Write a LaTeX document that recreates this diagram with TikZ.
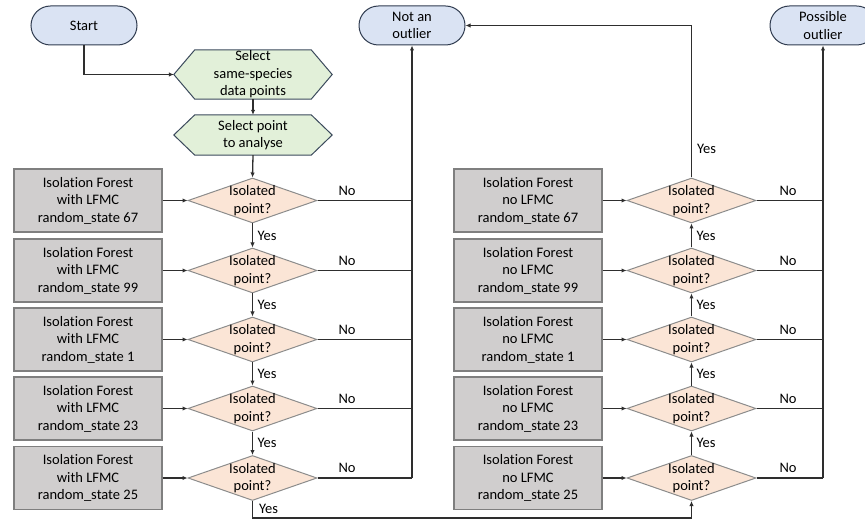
\documentclass[tikz,border=0pt]{standalone}
\usepackage{fontspec}
\setmainfont{Carlito}[Ligatures=NoCommon]
\usetikzlibrary{shapes.geometric,arrows.meta,calc}
\definecolor{termfill}{HTML}{DAE3F3}
\definecolor{termdraw}{HTML}{2F3B4F}
\definecolor{hexfill}{HTML}{E2F0D9}
\definecolor{hexdraw}{HTML}{3B4A5C}
\definecolor{diafill}{HTML}{FBE5D6}
\definecolor{diadraw}{HTML}{8C8C8C}
\definecolor{boxfill}{HTML}{D0CECE}
\definecolor{boxdraw}{HTML}{7F7F7F}
\definecolor{linecol}{HTML}{2E2E2E}
\begin{document}
\begin{tikzpicture}[x=1pt,y=1pt,
  every node/.style={font=\fontsize{14.5}{17.5}\selectfont},
  term/.style={draw=termdraw,fill=termfill,line width=1pt,rounded corners=19.5pt,
    minimum width=106pt,minimum height=39pt,inner sep=0pt,align=center},
  hexbox/.style={minimum width=158pt,minimum height=49pt,inner sep=0pt,align=center},
  hexline/.style={draw=hexdraw,fill=hexfill,line width=1pt},
  dia/.style={diamond,draw=diadraw,fill=diafill,line width=1pt,minimum width=129pt,
    minimum height=45pt,inner sep=0pt},
  diatext/.style={align=center,inner sep=0pt},
  algbox/.style={draw=boxdraw,fill=boxfill,line width=1.3pt,minimum width=148pt,
    minimum height=63pt,inner sep=0pt,align=center},
  conn/.style={draw=linecol,line width=1.3pt},
  arr/.style={conn,-{Latex[length=5pt,width=4.5pt]}},
  lbl/.style={inner sep=0pt}
]
\useasboundingbox (0,0) rectangle (865,-521);

% terminals
\node[term] (start) at (84,-25.5) {Start};
\node[term] (notout) at (412,-25.5) {Not an\\outlier};
\node[term] (possout) at (823,-25.5) {Possible\\outlier};

% hexagons
\node[hexbox] (h1) at (253,-74.5) {};
\path[hexline] (h1.west) -- ($(h1.north west)+(21,0)$) -- ($(h1.north east)+(-21,0)$)
  -- (h1.east) -- ($(h1.south east)+(-21,0)$) -- ($(h1.south west)+(21,0)$) -- cycle;
\node[hexbox] (h1t) at (h1) {Select\\same-species\\data points};
\node[hexbox,minimum height=40pt] (h2) at (253,-135) {};
\path[hexline] (h2.west) -- ($(h2.north west)+(21,0)$) -- ($(h2.north east)+(-21,0)$)
  -- (h2.east) -- ($(h2.south east)+(-21,0)$) -- ($(h2.south west)+(21,0)$) -- cycle;
\node[hexbox,minimum height=40pt] (h2t) at (h2) {Select point\\to analyse};

% columns
\foreach \i/\y/\rs in {1/200.5/67, 2/270.5/99, 3/339.5/1, 4/408.5/23, 5/478/25}{
  \node[algbox] (lb\i) at (88,-\y) {Isolation Forest\\with LFMC\\random\_state \rs};
  \node[dia] (ld\i) at (252.5,-\y) {};
  \node[diatext] (ldt\i) at (252.5,-\y) {Isolated\\point?};
  \draw[arr] (lb\i.east) -- (ld\i.west);
  \draw[conn] (ld\i.east) -- (ld\i.east -| notout.south);
  \node[lbl] (lno\i) at (347,-\y+10) {No};
  \node[algbox] (rb\i) at (528,-\y) {Isolation Forest\\no LFMC\\random\_state \rs};
  \node[dia] (rd\i) at (691.5,-\y) {};
  \node[diatext] (rdt\i) at (691.5,-\y) {Isolated\\point?};
  \draw[arr] (rb\i.east) -- (rd\i.west);
  \draw[conn] (rd\i.east) -- (rd\i.east -| possout.south);
  \node[lbl] (rno\i) at (788,-\y+10) {No};
}

% vertical chains
\draw[arr] (h1.south) -- (h2.north);
\draw[arr] (h2.south) -- (ld1.north);
\draw[arr] (start.south) |- (h1.west);
\foreach \i/\j in {1/2,2/3,3/4,4/5}{
  \draw[arr] (ld\i.south) -- (ld\j.north);
  \path (ld\i.south) -- (ld\j.north) node[midway,anchor=west,lbl,xshift=5pt] (ly\i) {Yes};
  \draw[arr] (rd\j.north) -- (rd\i.south);
  \path (rd\j.north) -- (rd\i.south) node[midway,anchor=west,lbl,xshift=5pt] (ry\i) {Yes};
}

% collector lines
\coordinate (lcol) at (ld5.east -| notout.south);
\draw[arr] (lcol) -- (notout.south);
\coordinate (rcol) at (rd5.east -| possout.south);
\draw[arr] (rcol) -- (possout.south);

% bottom yes
\coordinate (bl) at (252.5,-518);
\draw[arr] (ld5.south) -- (bl) -| (rd5.south);
\node[lbl,anchor=west] (ly5) at (259,-509) {Yes};

% top yes
\draw[arr] (rd1.north) |- (notout.east);
\node[lbl,anchor=west] (ry5) at (697,-149) {Yes};
\end{tikzpicture}
\end{document}
